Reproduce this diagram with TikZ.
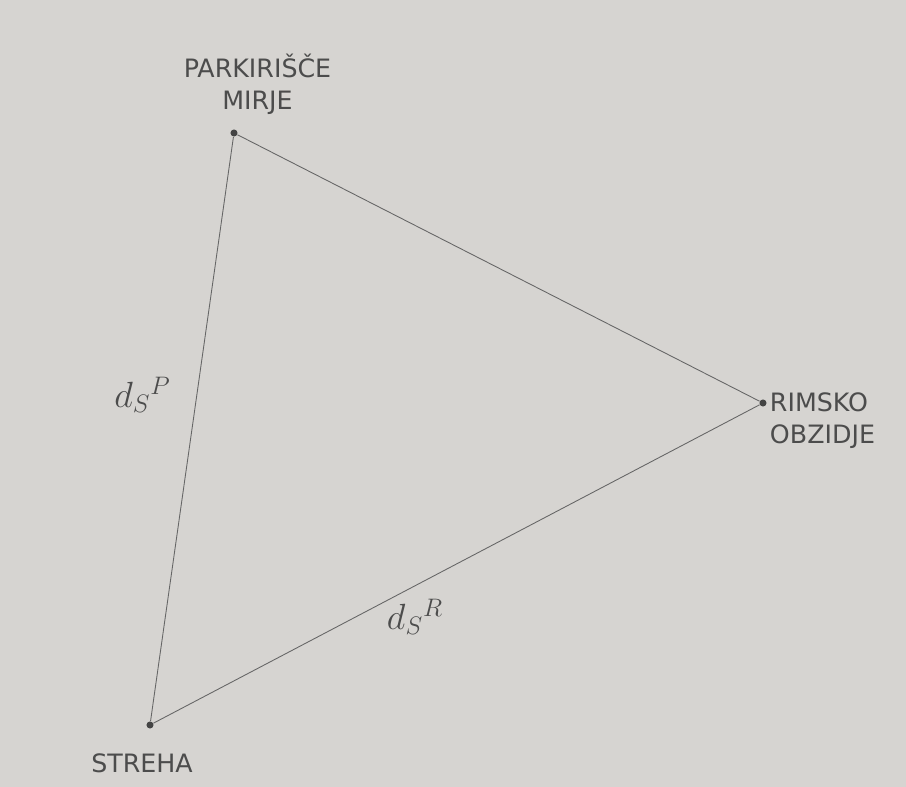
\documentclass[tikz,border=0pt]{standalone}
\usepackage{fontspec}
\setsansfont{DejaVu Sans}
\usepackage{tikz}
\usetikzlibrary{positioning,calc}
\definecolor{paper}{RGB}{214,212,209}
\definecolor{pencil}{RGB}{85,85,85}

\begin{document}
\begin{tikzpicture}[
    lbl/.style={align=center,text=pencil!90!black,font=\sffamily\Large,inner sep=1pt},
    dist/.style={font=\huge,text=pencil!90!black,inner sep=1pt},
    pt/.style={circle,fill=pencil!80!black,inner sep=0pt,minimum size=4pt},
    edge/.style={pencil!90,line width=0.5pt}
  ]
    % paper
    \fill[paper] (0,0) rectangle (18.12,15.74);
    \useasboundingbox (0,0) rectangle (18.12,15.74);
    % points
    \node[pt] (p) at (4.68,13.08) {};
    \node[pt] (r) at (15.26,7.68) {};
    \node[pt] (s) at (3.00,1.24) {};
    \draw[edge] (p) -- (r) -- (s) -- (p);
    % labels
    \node[lbl] (plbl) at (5.15,14.05) {PARKIRIŠČE\\MIRJE};
    \node[lbl,align=left] (rlbl) at (16.45,7.33) {RIMSKO\\OBZIDJE};
    \node[lbl] (slbl) at (2.84,0.48) {STREHA};
    \node[dist] (dp) at (2.85,7.84) {$d_S{}^P$};
    \node[dist] (dr) at (8.30,3.40) {$d_S{}^R$};
  \end{tikzpicture}
\end{document}
